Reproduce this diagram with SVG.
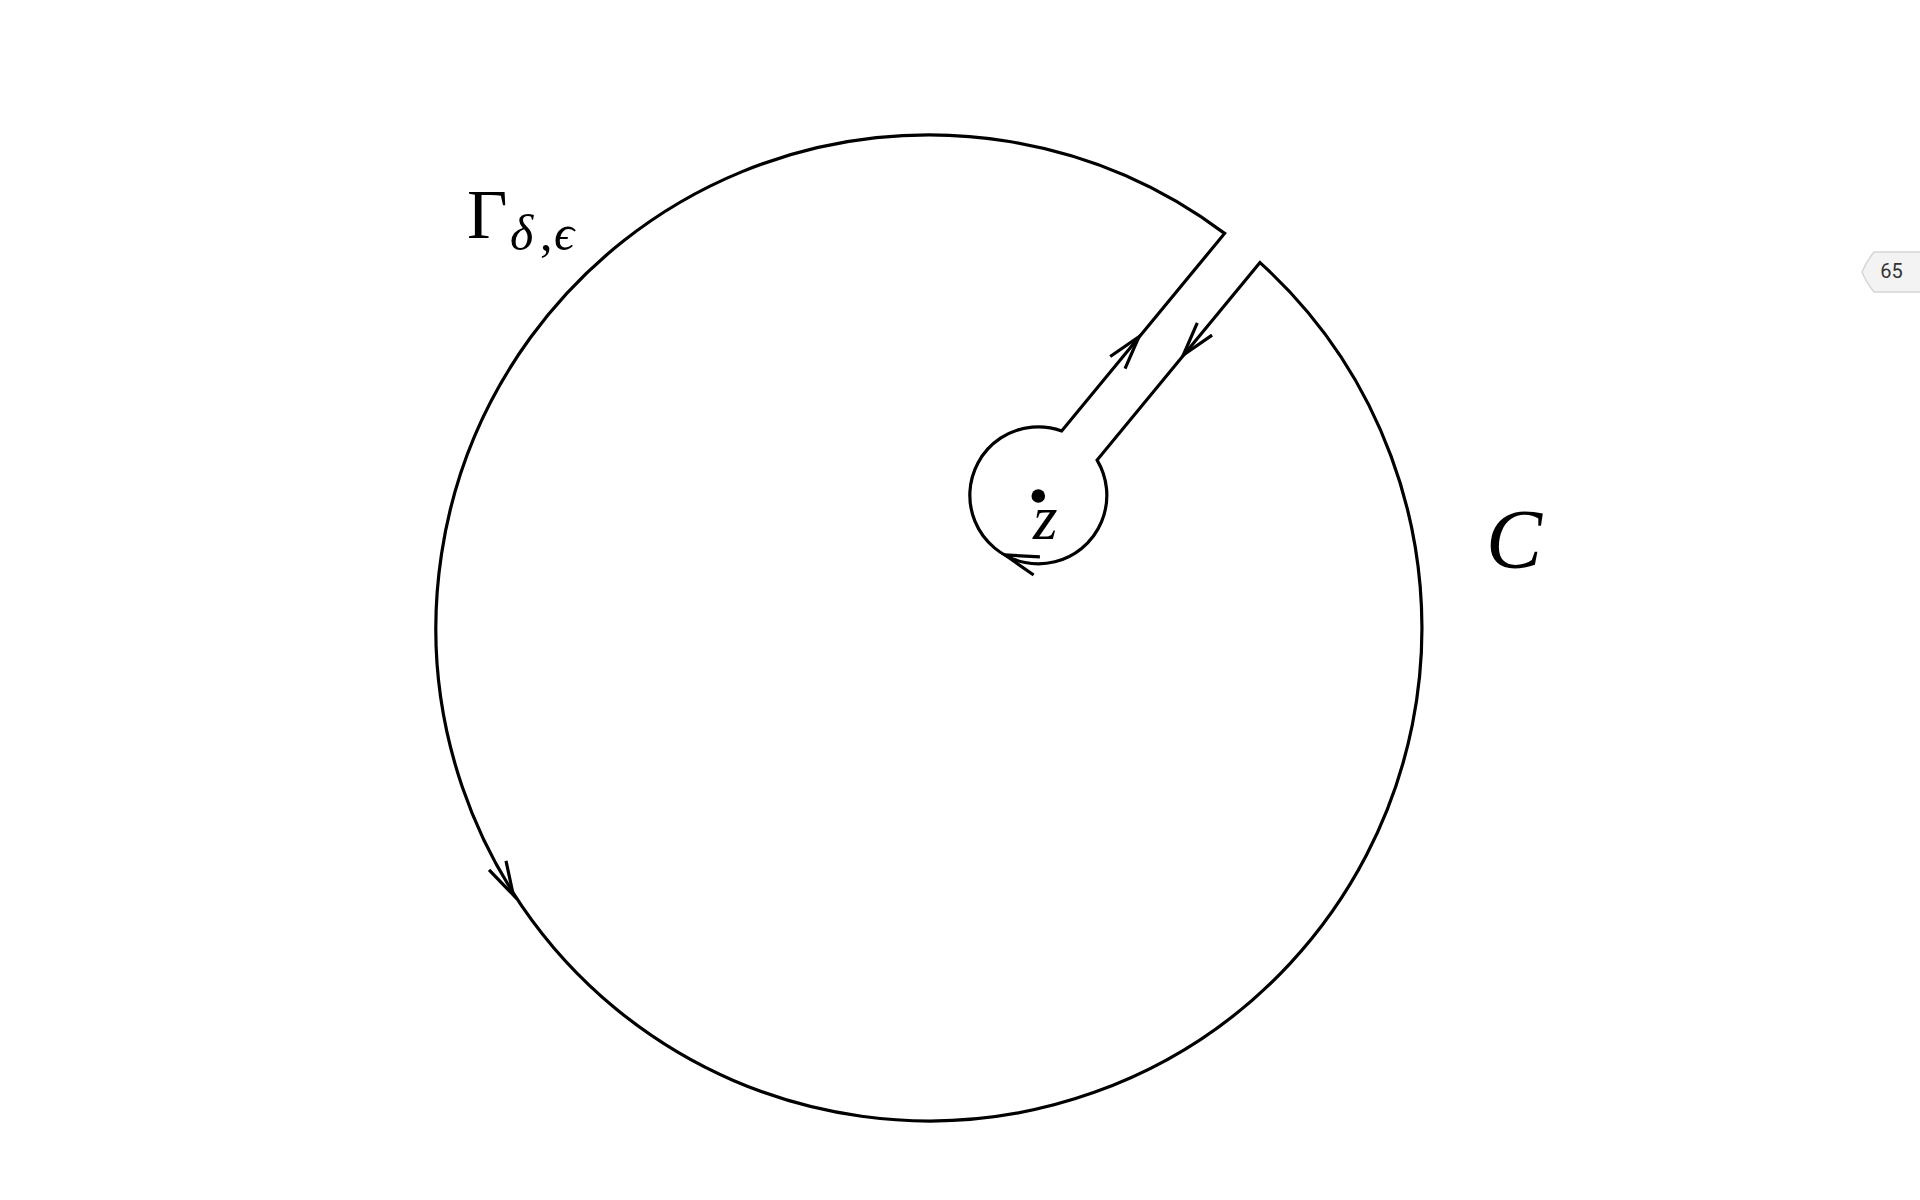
<svg xmlns="http://www.w3.org/2000/svg" xmlns:xlink="http://www.w3.org/1999/xlink" width="1920" height="1200" viewBox="0 0 1920 1200">
<style>
.ln{fill:none;stroke:#000;stroke-width:3.2;stroke-linejoin:miter;stroke-linecap:butt}
.ah{fill:none;stroke:#000;stroke-width:3.2;stroke-linecap:butt;stroke-linejoin:miter}
.m{font-family:"Liberation Serif","DejaVu Serif",serif;fill:#000}
.it{font-style:italic}
.tag{fill:#f3f3f3;stroke:#d6d6d6;stroke-width:1.5}
.tagt{font-family:Roboto,"Liberation Sans",sans-serif;font-size:20px;fill:#333}
</style>
<defs>
<path id="arrowhead" class="ah" d="M-33.6,-9.6 L0,0 L-33.6,9.6"/>
</defs>
<rect width="1920" height="1200" fill="#fff"/>
<g id="connectors">
<path id="contour" class="ln" d="M1260,262.6 L1097.1,460.1 A68.5,68.5 0 1 1 1061.7,430.9 L1224.6,233.4 A493,493 0 1 0 1260,262.6 Z"/>
<use href="#arrowhead" xlink:href="#arrowhead" transform="translate(1139,336.7) rotate(-50.5)"/>
<use href="#arrowhead" xlink:href="#arrowhead" transform="translate(1183.3,355) rotate(129.5)"/>
<use href="#arrowhead" xlink:href="#arrowhead" transform="translate(513.3,895) rotate(62)"/>
<use href="#arrowhead" xlink:href="#arrowhead" transform="translate(1005,555) rotate(199)"/>
</g>
<g id="node-z">
<circle cx="1038.3" cy="496" r="6.8" fill="#000"/>
<text class="m it" x="1033" y="539" font-size="63">z</text>
</g>
<g id="node-gamma">
<text class="m" x="467" y="238.3" font-size="70">Γ</text>
<text class="m it" y="250" font-size="50"><tspan x="510">δ</tspan><tspan x="540" font-style="normal">,</tspan><tspan x="554">ϵ</tspan></text>
</g>
<g id="node-C">
<text class="m it" x="1486" y="568" font-size="84">C</text>
</g>
<g id="page-tag">
<path class="tag" d="M1922,252 L1874,252 Q1866,262 1862,272 Q1866,282 1874,292 L1922,292 Z"/>
<text class="tagt" x="1891.5" y="278.3" text-anchor="middle">65</text>
</g>
</svg>
